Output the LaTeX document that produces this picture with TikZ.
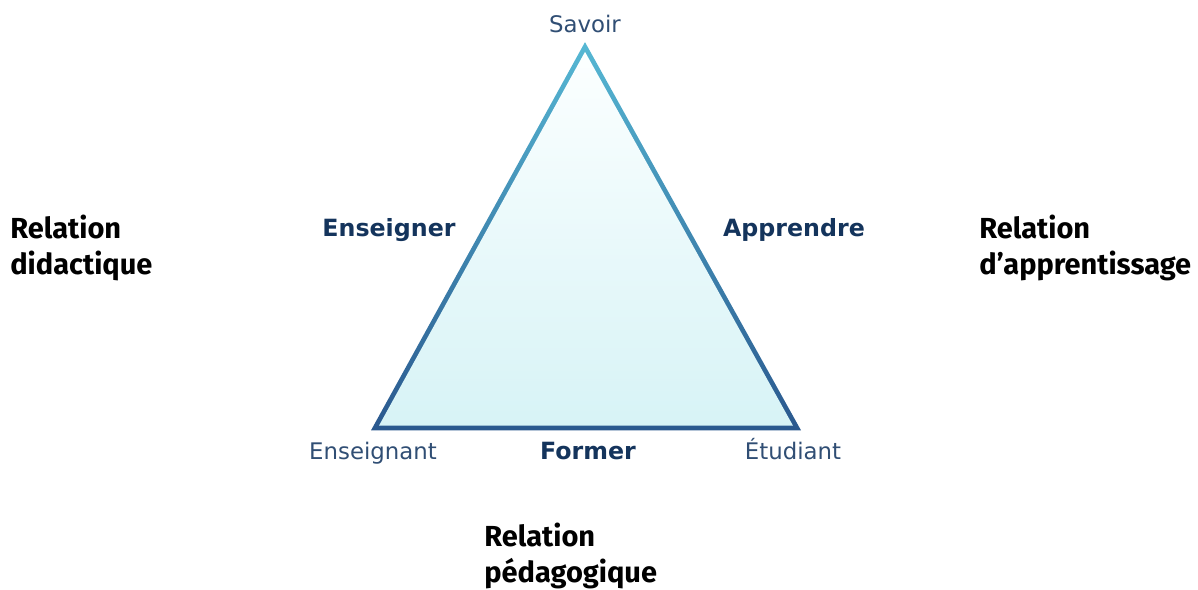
\documentclass[tikz,border=0pt]{standalone}
\usepackage{fontspec}
\setmainfont{DejaVu Sans}
\newfontfamily\relfont{Fira Sans}
\usepackage{tikz}
\usetikzlibrary{calc,positioning}
\definecolor{edgelight}{RGB}{86,184,212}
\definecolor{edgedark}{RGB}{42,88,142}
\definecolor{filltop}{RGB}{252,255,255}
\definecolor{fillbottom}{RGB}{215,243,246}
\definecolor{labelblue}{RGB}{48,78,116}
\definecolor{verbblue}{RGB}{20,52,92}

\begin{document}
\begin{tikzpicture}[x=0.02cm, y=-0.02cm,
    vertex/.style={font=\fontsize{13}{15}\selectfont, text=labelblue, anchor=base, inner sep=0pt},
    verb/.style={font=\fontsize{13.5}{15}\selectfont\bfseries, text=verbblue, anchor=base, inner sep=0pt},
    relation/.style={font=\relfont\bfseries\fontsize{16.5}{21}\selectfont, align=left, anchor=base west, inner sep=0pt}
]
\useasboundingbox (0,0) rectangle (1198,590);

% Corners of the triangle
\coordinate (savoir) at (585,47);
\coordinate (enseignant) at (375,428);
\coordinate (etudiant) at (797,428);
\coordinate (centre) at (585.5,303.6);

% Border (outer shade) and inside (inner shade)
\shade[top color=edgelight, bottom color=edgedark]
    ($(centre)!1.019!(savoir)$) -- ($(centre)!1.019!(enseignant)$) -- ($(centre)!1.019!(etudiant)$) -- cycle;
\shade[top color=filltop, bottom color=fillbottom]
    ($(centre)!0.981!(savoir)$) -- ($(centre)!0.981!(enseignant)$) -- ($(centre)!0.981!(etudiant)$) -- cycle;

% Poles
\node[vertex] (lsavoir) at (585,33) {Savoir};
\node[vertex] (lenseignant) at (373,460) {Enseignant};
\node[vertex] (letudiant) at (793,460) {Étudiant};

% Processes
\node[verb] (enseigner) at (389,237) {Enseigner};
\node[verb] (apprendre) at (794,237) {Apprendre};
\node[verb] (former) at (588,460) {Former};

% Relations (base = last line)
\node[relation] (didactique) at (10,275) {Relation\\didactique};
\node[relation] (apprentissage) at (979,275) {Relation\\d’apprentissage};
\node[relation] (pedagogique) at (484,583) {Relation\\pédagogique};

\end{tikzpicture}
\end{document}
